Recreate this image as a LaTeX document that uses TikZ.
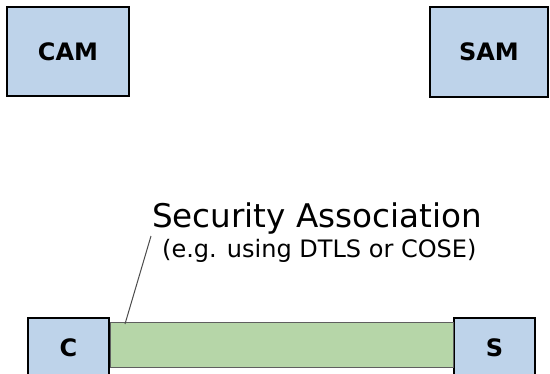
\documentclass[tikz,border=0pt]{standalone}
\usepackage{fontspec}
\setmainfont{DejaVu Sans}
\definecolor{cBox}{RGB}{190,211,234}
\definecolor{cLink}{RGB}{182,214,168}
\definecolor{cEdge}{RGB}{95,95,95}
\tikzset{
  entity/.style={draw=black,line width=2pt,fill=cBox,inner sep=0pt,font=\fontsize{24}{29}\selectfont\bfseries},
  endpoint/.style={entity,anchor=north,minimum width=81pt,minimum height=88pt,text height=38pt,text depth=50pt}
}
\begin{document}
\begin{tikzpicture}[x=1pt,y=-1pt]
\clip (0,0) rectangle (550,373);
\fill[white] (0,0) rectangle (550,373);
\node[entity,minimum width=122pt,minimum height=89pt] (cam) at (68,51.5) {CAM};
\node[entity,minimum width=118pt,minimum height=90pt] (sam) at (489,52) {SAM};
\node[endpoint] (c) at (68.5,317) {C};
\node[endpoint] (s) at (494.5,317) {S};
\draw[cEdge,fill=cLink,line width=1pt] ([yshift=-5pt]c.north east) rectangle ([yshift=-50pt]s.north west);
\node[anchor=base,inner sep=0pt,font=\fontsize{32.6}{38}\selectfont] (title) at (317,227) {Security Association};
\node[anchor=base west,inner sep=0pt,font=\fontsize{24}{29}\selectfont] (note) at (162,257) {(e.g. using DTLS or COSE)};
\coordinate (from) at (151,236);
\coordinate (tip) at (125,324);
\draw[cEdge!80!black,line width=1pt] (from) -- (tip);
\end{tikzpicture}
\end{document}
